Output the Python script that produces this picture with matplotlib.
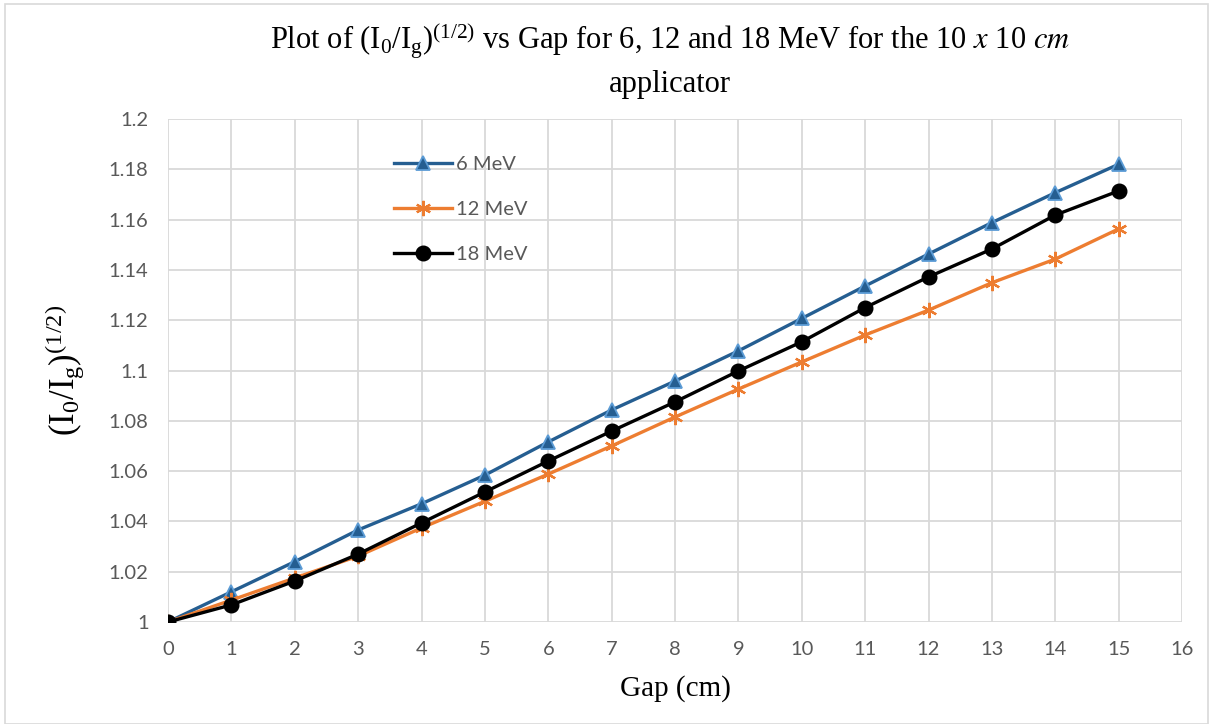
import numpy as np
import matplotlib
matplotlib.use("Agg")
import matplotlib.pyplot as plt
from matplotlib.patches import Rectangle

plt.rcParams["mathtext.fontset"] = "stix"

# ---- data
gap = list(range(16))
mev6 = [1.0, 1.012, 1.024, 1.0366, 1.047, 1.0584, 1.0716, 1.0843, 1.0958,
        1.1078, 1.1207, 1.1336, 1.1463, 1.1588, 1.1707, 1.1820]
mev12 = [1.0, 1.0087, 1.0175, 1.0262, 1.0374, 1.048, 1.0588, 1.070, 1.0815,
         1.0926, 1.1034, 1.1141, 1.124, 1.1349, 1.1443, 1.1563]
mev18 = [1.0, 1.0068, 1.0163, 1.027, 1.0394, 1.0517, 1.064, 1.0759, 1.0875,
         1.0998, 1.1114, 1.125, 1.1372, 1.1483, 1.1618, 1.1714]
labels = ["6 MeV", "12 MeV", "18 MeV"]

fig = plt.figure(figsize=(12.13, 7.24), dpi=100)
ax = fig.add_axes([168 / 1213, 1 - 622 / 724, (1182 - 168) / 1213, (622 - 119) / 724])

# light frame round the whole chart, like the Excel chart area
fig.patches.append(Rectangle((0.004, 0.0), 0.992, 0.995, transform=fig.transFigure,
                             fill=False, edgecolor="#D9D9D9", linewidth=1.2))

ax.plot(gap, mev6, color="#255E91", lw=2.4, marker="^", markersize=10,
        markerfacecolor="#255E91", markeredgecolor="#5B9BD5", markeredgewidth=1.3,
        label=labels[0], zorder=3)
ax.plot(gap, mev12, color="#ED7D31", lw=2.4, marker=(6, 2, 0), markersize=11,
        markeredgecolor="#ED7D31", markeredgewidth=1.6, label=labels[1], zorder=3)
ax.plot(gap, mev18, color="black", lw=2.4, marker="o", markersize=10.5,
        markerfacecolor="black", label=labels[2], zorder=4)

ax.set_xlim(0, 16)
ax.set_ylim(1.0, 1.2)
ax.set_xticks(range(0, 17))
yt = np.arange(1.0, 1.2001, 0.02)
ax.set_yticks(yt)
ax.set_yticklabels(["1", "1.02", "1.04", "1.06", "1.08", "1.1", "1.12", "1.14",
                    "1.16", "1.18", "1.2"])
ax.grid(True, color="#D9D9D9", lw=1.3)
ax.set_axisbelow(True)
for s in ax.spines.values():
    s.set_visible(False)
ax.tick_params(length=0, labelsize=14.5, labelcolor="#595959", pad=14)
for t in ax.get_xticklabels() + ax.get_yticklabels():
    t.set_family("Lato")

ax.set_xlabel("Gap (cm)", family="Liberation Serif", fontsize=21, labelpad=12)
ax.set_ylabel(r"$\mathregular{(I_0/I_g)^{(1/2)}}$", family="Liberation Serif",
              fontsize=25, labelpad=16)

fig.text(0.552, 0.943, r"Plot of $\mathregular{(I_0/I_g)^{(1/2)}}$ vs Gap for 6, 12 and 18 MeV for the 10 $x$ 10 $cm$",
         ha="center", va="center", family="Liberation Serif", fontsize=22)
fig.text(0.552, 0.883, "applicator", ha="center", va="center",
         family="Liberation Serif", fontsize=22)

leg = ax.legend(loc="upper left", bbox_to_anchor=(0.205, 0.962), frameon=False,
                fontsize=14.5, handlelength=2.9, labelspacing=1.38, handletextpad=0.2)
for t in leg.get_texts():
    t.set_color("#595959")
    t.set_family("Lato")

fig.savefig("out.png", dpi=100)
